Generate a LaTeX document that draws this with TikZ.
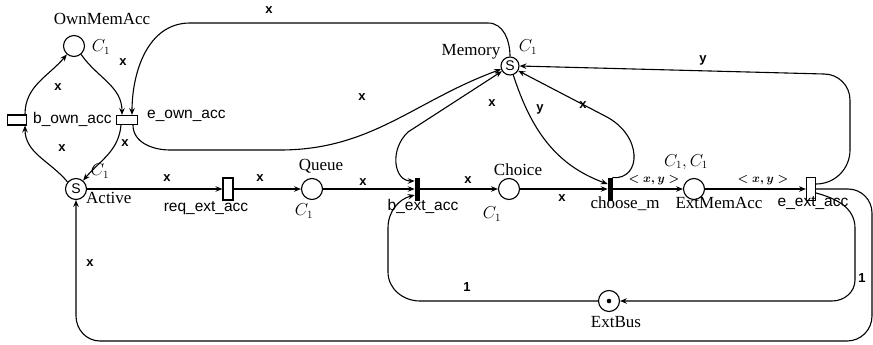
\documentclass[tikz,border=0pt]{standalone}
\usepackage{fontspec}
\setmainfont{Liberation Serif}
\setsansfont{Liberation Sans}
\usetikzlibrary{arrows.meta}
\begin{document}
\begin{tikzpicture}[x=1pt,y=-1pt,
  >={Stealth[length=7pt,width=5.5pt,inset=2.5pt]},
  place/.style={circle,draw,line width=1.1pt,minimum size=21pt,inner sep=0pt,
    font=\sffamily\fontsize{14}{16}\selectfont},
  trans/.style={rectangle,draw,line width=1.1pt,inner sep=0pt},
  bar/.style={rectangle,draw,fill=black,line width=0.6pt,inner sep=0pt,
    minimum width=4pt,minimum height=22pt},
  arc/.style={line width=1.1pt,->},
  lbl/.style={font=\sffamily\bfseries\fontsize{13}{15}\selectfont,inner sep=0pt},
  pname/.style={font=\fontsize{17}{20}\selectfont,inner sep=0pt},
  tname/.style={font=\sffamily\fontsize{15.5}{18}\selectfont,inner sep=0pt},
  col/.style={font=\fontsize{16}{19}\selectfont,inner sep=0pt},
  tuple/.style={font=\fontsize{13}{15}\selectfont\boldmath,inner sep=0pt}]
\useasboundingbox (0,0) rectangle (873,345);

% places and transitions
\node[place] (own) at (74,46) {};
\node[place] (act) at (76,189) {S};
\node[trans,minimum width=19pt,minimum height=10pt] (bown) at (17,120) {};
\node[trans,minimum width=21pt,minimum height=9pt] (eown) at (127,120) {};
\node[place,minimum size=18pt] (mem) at (510,66) {S};
\node[trans,minimum width=10pt,minimum height=22pt] (req) at (228,189) {};
\node[place] (queue) at (312,189) {};
\node[bar] (bext) at (417,189) {};
\node[place] (choice) at (509,189) {};
\node[bar] (chm) at (610,189) {};
\node[place] (extmem) at (694,189) {};
\node[trans,minimum width=9pt,minimum height=23pt] (eext) at (811,189) {};
\node[place] (extbus) at (609,301) {};
\fill (extbus.center) circle (2.3pt);

% names and colour sets
\node[pname] (nown) at (102,19) {OwnMemAcc};
\node[col] (cown) at (101,47) {$C_1$};
\node[tname,anchor=west] (nbown) at (33,119) {b\_own\_acc};
\node[tname,anchor=west] (neown) at (147,116) {e\_own\_acc};
\node[col] (cact) at (100,171) {$C_1$};
\node[pname,anchor=west] (nact) at (86,198) {Active};
\node[pname] (nmem) at (471,52) {Memory};
\node[col] (cmem) at (528,47) {$C_1$};
\node[tname] (nreq) at (206,208) {req\_ext\_acc};
\node[pname] (nqueue) at (321,166) {Queue};
\node[col] (cqueue) at (304,211) {$C_1$};
\node[tname] (nbext) at (423,206) {b\_ext\_acc};
\node[pname] (nchoice) at (518,170) {Choice};
\node[col] (cchoice) at (492,214) {$C_1$};
\node[pname] (nchm) at (625,204) {choose\_m};
\node[col] (cext) at (686,162) {$C_1,C_1$};
\node[pname] (nextmem) at (719,203) {ExtMemAcc};
\node[tname] (neext) at (813,203) {e\_ext\_acc};
\node[pname] (nbus) at (616,322) {ExtBus};

% arcs of the own memory cycle
\draw[arc] (act.140) to[out=130,in=-90] ([xshift=8pt]bown.south);
\draw[arc] ([xshift=8pt]bown.north) to[out=90,in=-130] (own.-130);
\draw[arc] (own.-50) to[out=-55,in=90] ([xshift=-5pt]eown.north);
\draw[arc] ([xshift=-6pt]eown.south) to[out=-95,in=50] (act.50);
\draw[arc] (mem.north) to[out=90,in=0] (488,23) -- (190,23)
  to[out=180,in=90] ([xshift=5pt]eown.north);
\draw[arc] ([xshift=6pt]eown.south) to[out=-90,in=180] (170,150) -- (280,150)
  to[out=0,in=200] (mem.200);

% main line
\draw[arc] (act.east) -- (req.west);
\draw[arc] (req.east) -- (queue.west);
\draw[arc] (queue.east) -- (bext.west);
\draw[arc] (bext.east) -- (choice.west);
\draw[arc] (choice.east) -- (chm.west);
\draw[arc] (chm.east) -- (extmem.west);
\draw[arc] (extmem.east) -- (eext.west);

% arcs to and from the memory
\draw[arc,<->] ([yshift=8pt]bext.west) .. controls (394,181) and (389,150) .. (408,132)
  -- (mem.213);
\draw[arc] (mem.-70) to[out=-72,in=160] ([yshift=5pt]chm.west);
\draw[arc] (chm.north east) .. controls (642,180) and (643,135) .. (605,116) -- (mem.-30);
\draw[arc] ([yshift=5pt]eext.east) to[out=0,in=-90] (850,150) -- (850,100)
  to[out=90,in=0] (824,74) -- (mem.east);

% bus arcs
\draw[arc] (extbus.west) -- (420,301) to[out=180,in=-90] (388,272) -- (388,228)
  to[out=90,in=195] ([yshift=-6pt]bext.west);
\draw[arc] ([yshift=-4pt]eext.east) to[out=-15,in=90] (855,228) -- (855,280)
  to[out=-90,in=0] (832,301) -- (extbus.east);
\draw[arc] (eext.east) -- (848,189) to[out=0,in=90] (872,213) -- (872,316)
  to[out=-90,in=0] (847,341) -- (100,341) to[out=180,in=-90] (76,316) -- (act.south);

% arc inscriptions
\node[lbl] (l1) at (58,87) {x};
\node[lbl] (l2) at (62,148) {x};
\node[lbl] (l3) at (123,62) {x};
\node[lbl] (l4) at (125,143) {x};
\node[lbl] (l5) at (269,10) {x};
\node[lbl] (l6) at (362,97) {x};
\node[lbl] (l7) at (167,178) {x};
\node[lbl] (l8) at (260,178) {x};
\node[lbl] (l9) at (363,182) {x};
\node[lbl] (l10) at (468,180) {x};
\node[lbl] (l11) at (562,198) {x};
\node[lbl] (l12) at (492,103) {x};
\node[lbl] (l13) at (540,109) {y};
\node[lbl] (l14) at (583,105) {x};
\node[lbl] (l15) at (703,60) {y};
\node[lbl] (l16) at (90,263) {x};
\node[lbl] (l17) at (467,287) {1};
\node[lbl] (l18) at (862,278) {1};
\node[tuple] (t1) at (654,180) {$<x,y>$};
\node[tuple] (t2) at (763,180) {$<x,y>$};
\end{tikzpicture}
\end{document}
